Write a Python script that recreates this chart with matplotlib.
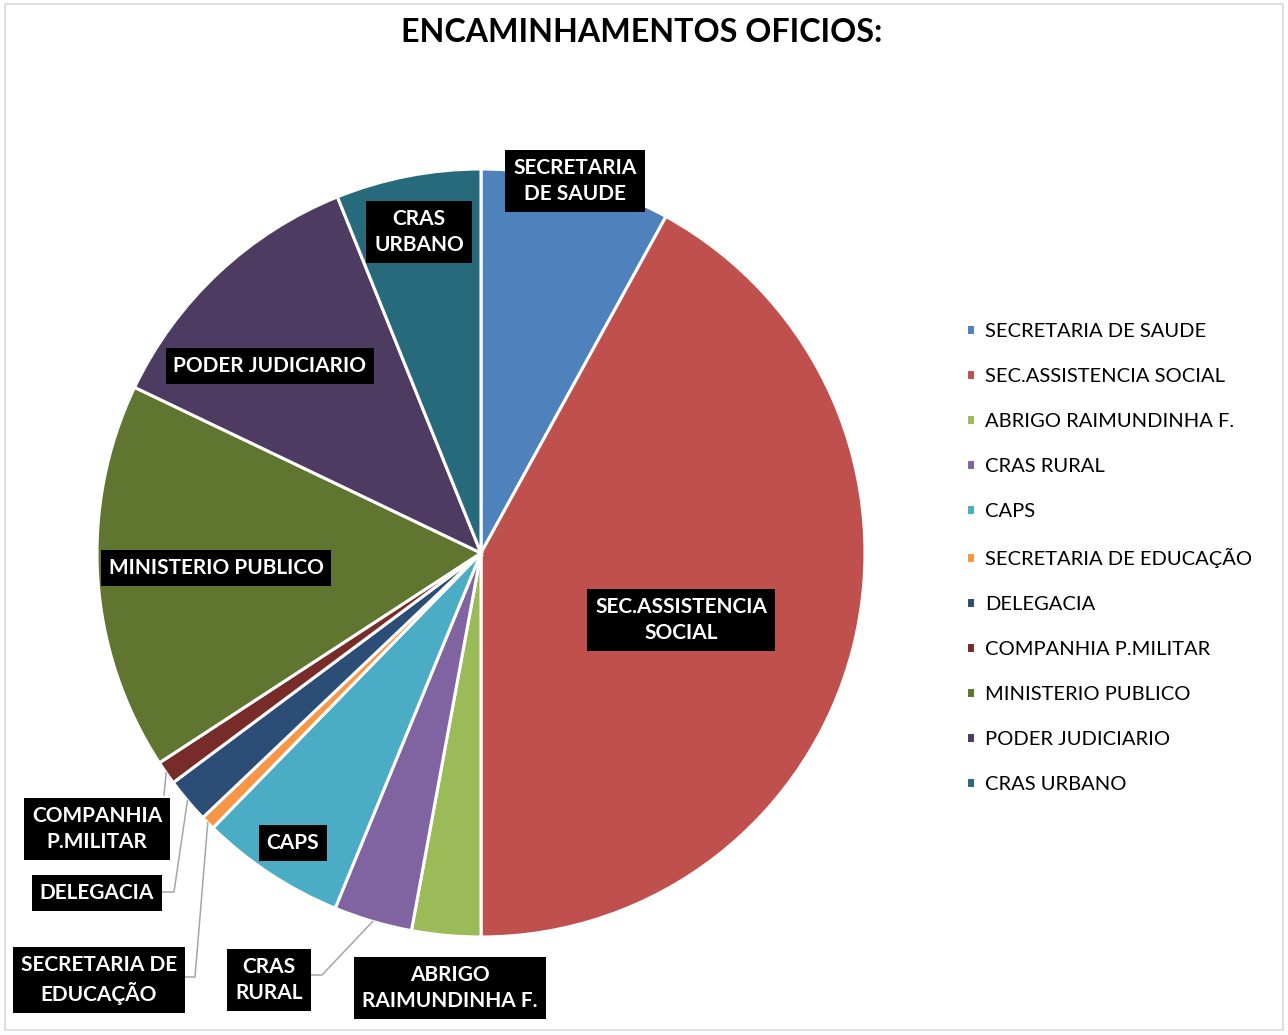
import numpy as np
import matplotlib.pyplot as plt
from matplotlib.patches import Rectangle

plt.rcParams['font.family'] = ['Lato', 'DejaVu Sans']

# Participação de cada destino nos ofícios (%)
categorias = [
    "SECRETARIA DE SAUDE",
    "SEC.ASSISTENCIA SOCIAL",
    "ABRIGO RAIMUNDINHA F.",
    "CRAS RURAL",
    "CAPS",
    "SECRETARIA DE EDUCAÇÃO",
    "DELEGACIA",
    "COMPANHIA P.MILITAR",
    "MINISTERIO PUBLICO",
    "PODER JUDICIARIO",
    "CRAS URBANO",
]
valores = [8.0, 42.0, 2.9, 3.3, 6.1, 0.6, 1.9, 1.0, 16.3, 11.8, 6.1]
rotulos = [
    "SECRETARIA\nDE SAUDE",
    "SEC.ASSISTENCIA\nSOCIAL",
    "ABRIGO\nRAIMUNDINHA F.",
    "CRAS\nRURAL",
    "CAPS",
    "SECRETARIA DE\nEDUCAÇÃO",
    "DELEGACIA",
    "COMPANHIA\nP.MILITAR",
    "MINISTERIO PUBLICO",
    "PODER JUDICIARIO",
    "CRAS\nURBANO",
]
cores = ["#4F81BD", "#C0504D", "#9BBB59", "#8064A2", "#4BACC6", "#F79646",
         "#2C4D75", "#772C2A", "#5F7530", "#4D3B62", "#276A7C"]

W, H = 1288, 1035
fig = plt.figure(figsize=(W / 100, H / 100), dpi=100)
ax = fig.add_axes([0, 0, 1, 1])

# eixo em pixels, y para cima
cx, cy, raio = 481, H - 553, 384
wedges, _ = ax.pie(valores, colors=cores, startangle=90, counterclock=False,
                   center=(cx, cy), radius=raio, frame=True,
                   wedgeprops=dict(edgecolor="white", linewidth=2.2))
ax.set_xlim(0, W)
ax.set_ylim(0, H)
ax.axis("off")

# borda do gráfico
fig.patches.append(Rectangle((5 / W, 5 / H), (W - 10) / W, (H - 9) / H,
                             transform=fig.transFigure, fill=False,
                             edgecolor="#d9d9d9", linewidth=1.2))

fig.text(642 / W, 1 - 33 / H, "ENCAMINHAMENTOS OFICIOS:", ha="center", va="center",
         fontsize=23.2, fontweight="bold", color="black")

# posição dos rótulos (pixels, origem no topo)
pos_rotulos = [(575, 181), (681, 620), (450, 988), (269, 980), (293, 843),
               (99, 980), (97, 893), (97, 829), (216, 568), (270, 366), (419, 232)]
# rótulos de fatias pequenas levam linha guia: ponto de saída no rótulo
guias = {3: [(311, 975), (322, 975)],
         5: [(184, 977), (195, 977)],
         6: [(161, 892), (174, 892)],
         7: [(164, 795)]}

for i, (txt, (x, y)) in enumerate(zip(rotulos, pos_rotulos)):
    ax.text(x, H - y, txt, ha="center", va="center", color="white",
            fontsize=15, fontweight="bold", linespacing=1.38,
            bbox=dict(boxstyle="square,pad=0.38", facecolor="black", edgecolor="none"),
            zorder=5)
    if i in guias:
        w = wedges[i]
        meio = np.deg2rad((w.theta1 + w.theta2) / 2)
        bx = cx + raio * np.cos(meio)
        by = cy + raio * np.sin(meio)
        xs = [p[0] for p in guias[i]] + [bx]
        ys = [H - p[1] for p in guias[i]] + [by]
        ax.plot(xs, ys, color="#a6a6a6", linewidth=1.1, zorder=4)

# legenda
ax.legend(wedges, categorias, loc="upper left", bbox_to_anchor=(966 / W, 1 - 323 / H),
          bbox_transform=fig.transFigure, frameon=False, fontsize=14.5,
          handlelength=0.46, handleheight=0.46, handletextpad=0.5,
          labelspacing=1.39, borderpad=0, borderaxespad=0)

fig.savefig("out.png", dpi=100)
